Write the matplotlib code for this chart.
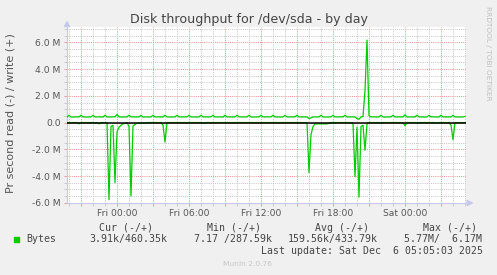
import numpy as np
import matplotlib
matplotlib.use("Agg")
import matplotlib.pyplot as plt
from matplotlib.patches import Rectangle, Polygon
from matplotlib.ticker import MultipleLocator, FuncFormatter

# 10 minute samples, first sample Thu 19:50 (hours relative to Fri 00:00)
t_start = -4 - 10 / 60.0
t_step = 10 / 60.0
t_end = 29 + 5 / 60.0

# read bytes/s (plotted negative), in millions
read_mb = [
    0, 0, 0, 0, 0, 0, 0.1, 0, 0, 0, 0, 0,
    0, 0, 0.05, 0, 0.1, 0, 0, 0, 0, 5.77, 0.3, 0.2,
    4.5, 0.7, 0.35, 0.2, 0.1, 0.05, 0, 0.3, 5.5, 0.25, 0.15, 0.05,
    0.05, 0.05, 0.05, 0.05, 0, 0, 0, 0, 0, 0, 0, 0,
    0.2, 1.46, 0, 0, 0, 0, 0, 0, 0, 0, 0, 0,
    0, 0, 0, 0, 0, 0, 0, 0, 0.05, 0, 0, 0,
    0, 0, 0, 0, 0, 0, 0, 0, 0, 0, 0, 0,
    0, 0, 0, 0, 0, 0, 0, 0, 0, 0, 0, 0,
    0, 0, 0, 0, 0, 0, 0, 0, 0, 0, 0, 0,
    0, 0, 0, 0, 0, 0, 0, 0, 0, 0, 0, 0,
    0, 3.75, 0.9, 0.3, 0.1, 0.1, 0.1, 0.1, 0.1, 0.1, 0.1, 0.05,
    0, 0, 0, 0, 0, 0, 0, 0, 0, 0, 0, 0.05,
    4.05, 0.35, 5.58, 0.3, 0.2, 2.07, 0.1, 0, 0, 0, 0, 0,
    0, 0.05, 0, 0, 0, 0, 0, 0, 0, 0, 0, 0,
    0, 0.25, 0, 0, 0, 0, 0, 0.05, 0, 0, 0, 0,
    0, 0, 0, 0, 0, 0.05, 0, 0, 0, 0, 0, 0,
    0.2, 1.28, 0, 0, 0, 0, 0, 0.004,
]

# write bytes/s, in millions
write_mb = [
    0.42, 0.55, 0.42, 0.41, 0.42, 0.43, 0.42, 0.55, 0.42, 0.42, 0.41, 0.42,
    0.42, 0.55, 0.42, 0.42, 0.43, 0.42, 0.41, 0.55, 0.42, 0.42, 0.42, 0.42,
    0.43, 0.6, 0.42, 0.42, 0.41, 0.42, 0.42, 0.55, 0.42, 0.43, 0.42, 0.42,
    0.42, 0.55, 0.41, 0.42, 0.42, 0.42, 0.42, 0.55, 0.42, 0.42, 0.43, 0.42,
    0.42, 0.55, 0.42, 0.42, 0.41, 0.42, 0.42, 0.55, 0.42, 0.42, 0.42, 0.43,
    0.42, 0.55, 0.42, 0.42, 0.42, 0.41, 0.42, 0.55, 0.42, 0.42, 0.42, 0.42,
    0.43, 0.55, 0.42, 0.42, 0.42, 0.42, 0.41, 0.55, 0.42, 0.42, 0.42, 0.42,
    0.42, 0.55, 0.43, 0.42, 0.42, 0.42, 0.42, 0.55, 0.42, 0.41, 0.42, 0.42,
    0.42, 0.55, 0.42, 0.42, 0.43, 0.42, 0.42, 0.55, 0.42, 0.42, 0.42, 0.41,
    0.42, 0.55, 0.42, 0.42, 0.42, 0.42, 0.43, 0.55, 0.42, 0.42, 0.42, 0.42,
    0.42, 0.3, 0.35, 0.42, 0.42, 0.42, 0.42, 0.55, 0.42, 0.41, 0.42, 0.42,
    0.42, 0.55, 0.42, 0.42, 0.42, 0.43, 0.42, 0.55, 0.42, 0.42, 0.42, 0.42,
    0.42, 0.3, 0.25, 0.42, 0.45, 2.4, 6.17, 0.5, 0.42, 0.42, 0.42, 0.42,
    0.42, 0.55, 0.42, 0.41, 0.42, 0.42, 0.42, 0.55, 0.42, 0.42, 0.43, 0.42,
    0.42, 0.58, 0.42, 0.42, 0.42, 0.42, 0.42, 0.55, 0.42, 0.42, 0.42, 0.41,
    0.42, 0.55, 0.42, 0.43, 0.42, 0.42, 0.42, 0.55, 0.42, 0.42, 0.42, 0.42,
    0.42, 0.55, 0.42, 0.42, 0.41, 0.42, 0.42, 0.46,
]

tick_hours = [0, 6, 12, 18, 24]
tick_labels = ["Fri 00:00", "Fri 06:00", "Fri 12:00", "Fri 18:00", "Sat 00:00"]

legend_cols = ["Cur (-/+)", "Min (-/+)", "Avg (-/+)", "Max (-/+)"]
legend_vals = ["3.91k/460.35k", "7.17 /287.59k", "159.56k/433.79k", "5.77M/  6.17M"]

W, H = 497, 275
green = "#00CC00"
bg = "#F0F0F0"
axis_col = "#C8C8EC"


def fx(x):
    return x / W


def fy(y):
    return 1 - y / H


times = t_start + t_step * np.arange(len(read_mb))
read = -np.array(read_mb)
write = np.array(write_mb)

fig = plt.figure(figsize=(W / 100, H / 100), dpi=100, facecolor=bg)
ax = fig.add_axes([fx(67), fy(203), (466 - 67) / W, (203 - 27) / H])
ax.set_facecolor("white")

ax.plot(times, write, color=green, lw=0.9, zorder=3)
ax.plot(times, read, color=green, lw=0.9, zorder=3)
ax.axhline(0, color="black", lw=1.1, zorder=4)

ax.set_xlim(t_start, t_end)
ax.set_ylim(-6.02, 7.15)

ax.xaxis.set_major_locator(MultipleLocator(3))
ax.xaxis.set_minor_locator(MultipleLocator(1))
labels = dict(zip(tick_hours, tick_labels))
ax.xaxis.set_major_formatter(FuncFormatter(lambda v, p: labels.get(int(round(v)), "")))
ax.yaxis.set_major_locator(MultipleLocator(2))
ax.yaxis.set_minor_locator(MultipleLocator(0.5))
ax.yaxis.set_major_formatter(FuncFormatter(lambda v, p: "0.0" if abs(v) < 1e-9 else "%.1f M" % v))

ax.grid(which="minor", color="#C4C4C4", linestyle=(0, (1, 1.2)), lw=0.7, zorder=1)
ax.grid(which="major", color="#E49090", linestyle=(0, (1, 1.2)), lw=0.7, zorder=2)
ax.set_axisbelow(True)

ax.tick_params(which="both", length=2, width=0.6, labelsize=6.6, labelcolor="#555555", pad=2.5)
ax.tick_params(which="major", color="#E49090")
ax.tick_params(which="minor", color="#C4C4C4")

for s in ["top", "right"]:
    ax.spines[s].set_visible(False)
for s in ["left", "bottom"]:
    ax.spines[s].set_color(axis_col)
    ax.spines[s].set_linewidth(0.8)

# axis arrows
fig.patches.append(Polygon([(fx(64.5), fy(26.5)), (fx(69.5), fy(26.5)), (fx(67), fy(21.5))],
                           closed=True, transform=fig.transFigure, color=axis_col))
fig.patches.append(Polygon([(fx(467), fy(200.5)), (fx(467), fy(205.5)), (fx(472.5), fy(203))],
                           closed=True, transform=fig.transFigure, color=axis_col))

fig.text(0.5, fy(19), "Disk throughput for /dev/sda - by day", ha="center", va="center",
         fontsize=9.1, color="#444444")
fig.text(fx(11), fy(113.5), "Pr second read (-) / write (+)", rotation=90, ha="center", va="center",
         fontsize=8.0, color="#555555")
fig.text(fx(488), fy(53), "RRDTOOL / TOBI OETIKER", rotation=270, ha="center", va="center",
         fontsize=5.3, color="#C0C0C0")

mono = "DejaVu Sans Mono"
col_x = [98.7, 206.7, 315, 422.7]
val_x = [89.3, 194.3, 287.7, 404.3]
for x, s in zip(col_x, legend_cols):
    fig.text(fx(x), fy(228), s, ha="left", va="center", family=mono, fontsize=7.1, color="#444444")
fig.patches.append(Rectangle((fx(14), fy(242)), 5 / W, 5 / H, transform=fig.transFigure, color=green))
fig.text(fx(26.7), fy(239.3), "Bytes", ha="left", va="center", family=mono, fontsize=7.1, color="#444444")
for x, s in zip(val_x, legend_vals):
    fig.text(fx(x), fy(239.3), s, ha="left", va="center", family=mono, fontsize=7.1, color="#444444")
fig.text(fx(482.7), fy(251), "Last update: Sat Dec  6 05:05:03 2025", ha="right", va="center",
         family=mono, fontsize=7.1, color="#444444")
fig.text(fx(223), fy(264.5), "Munin 2.0.76", ha="left", va="center", fontsize=5.4, color="#C8C8C8")

fig.savefig("out.png", dpi=100, facecolor=bg)
